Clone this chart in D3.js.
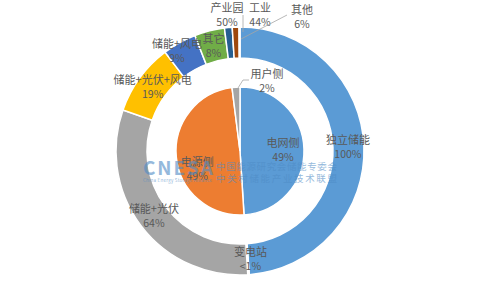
<!DOCTYPE html>
<html>
<head>
<meta charset="utf-8">
<script src="https://cdn.jsdelivr.net/npm/d3@7"></script>
<style>
  body { margin: 0; background: #fff; }
  text { font-family: "Noto Sans CJK SC", "Noto Sans", sans-serif; }
</style>
</head>
<body>
<div id="chart"></div>
<script>
// nested donut: inner = side, outer = application within each side
var innerNames = ["电网侧", "电源侧", "用户侧"];
var innerValues = [49, 49, 2];

var outerNames = ["独立储能", "变电站", "储能+光伏", "储能+光伏+风电", "储能+风电", "其它", "产业园", "工业", "其他"];
var outerParent = [0, 0, 1, 1, 1, 1, 2, 2, 2];
var outerPct = [99.6, 0.4, 64, 19, 9, 8, 50, 44, 6];

var innerColors = ["#5B9BD5", "#ED7D31", "#A5A5A5"];
var outerColors = ["#5B9BD5", "#ED7D31", "#A5A5A5", "#FFC000", "#4472C4", "#70AD47", "#255E91", "#9E480E", "#636363"];

var svgWidth = 480;
var svgHeight = 281;
var cx = 240, cy = 151;

var svg = d3.select("#chart")
  .append("svg")
  .attr("width", svgWidth)
  .attr("height", svgHeight);

var g = svg.append("g").attr("transform", "translate(" + cx + "," + cy + ")");

var pie = d3.pie().sort(null).value(function(d) { return d.value; });

var innerData = innerNames.map(function(n, i) {
  return { name: n, value: innerValues[i], pct: innerValues[i], color: innerColors[i] };
});
var outerData = outerNames.map(function(n, i) {
  return {
    name: n,
    value: innerValues[outerParent[i]] * outerPct[i] / 100,
    pct: outerPct[i],
    color: outerColors[i]
  };
});

var innerArcs = pie(innerData);
var outerArcs = pie(outerData);

var innerArc = d3.arc().innerRadius(0).outerRadius(64);
var outerArc = d3.arc().innerRadius(93).outerRadius(124);

g.selectAll("path.inner")
  .data(innerArcs)
  .enter().append("path")
  .attr("class", "inner")
  .attr("d", innerArc)
  .attr("fill", function(d) { return d.data.color; })
  .attr("stroke", "#fff")
  .attr("stroke-width", 1.5);

g.selectAll("path.outer")
  .data(outerArcs)
  .enter().append("path")
  .attr("class", "outer")
  .attr("d", outerArc)
  .attr("fill", function(d) { return d.data.color; })
  .attr("stroke", "#fff")
  .attr("stroke-width", 1.5);

// watermark
var wm = svg.append("g").attr("opacity", 0.6);
wm.append("text")
  .attr("x", 143).attr("y", 175)
  .attr("font-family", "Roboto, sans-serif")
  .attr("font-weight", "bold")
  .attr("font-size", 19)
  .attr("textLength", 70)
  .attr("fill", "#4F8CC6")
  .text("CNESA");
wm.append("text")
  .attr("x", 143).attr("y", 182)
  .attr("font-size", 4.5)
  .attr("textLength", 69)
  .attr("fill", "#4F8CC6")
  .text("China Energy Storage Alliance");
wm.append("text")
  .attr("x", 216).attr("y", 170)
  .attr("font-size", 9.5)
  .attr("textLength", 121)
  .attr("fill", "#4F8CC6")
  .text("中国能源研究会储能专委会");
wm.append("text")
  .attr("x", 216).attr("y", 182)
  .attr("font-size", 9.5)
  .attr("textLength", 121)
  .attr("fill", "#4F8CC6")
  .text("中关村储能产业技术联盟");

function pctText(p) {
  return p < 1 ? "<1%" : Math.round(p) + "%";
}

// label placement, Excel-like tweaks
var innerLabelArc = d3.arc().innerRadius(43).outerRadius(43);
var outerLabelArc = d3.arc().innerRadius(108).outerRadius(108);

var labels = [];
innerArcs.forEach(function(d, i) {
  var c = innerLabelArc.centroid(d);
  if (i === 1) c[1] += 14;
  if (i === 2) c = [27, -70];
  labels.push({ x: c[0], y: c[1], name: d.data.name, pct: pctText(d.data.pct) });
});
outerArcs.forEach(function(d, i) {
  var c = outerLabelArc.centroid(d);
  if (i === 1) c[0] += 3;
  if (i === 4) c = [-63, -100];
  if (i === 6) c = [-13, -136];
  if (i === 7) c = [20, -136];
  if (i === 8) c = [62, -134];
  labels.push({ x: c[0], y: c[1], name: d.data.name, pct: pctText(d.data.pct) });
});

var lab = g.selectAll("text.lab")
  .data(labels)
  .enter().append("text")
  .attr("class", "lab")
  .attr("text-anchor", "middle")
  .attr("font-size", 11)
  .attr("fill", "#595959");
lab.append("tspan")
  .attr("x", function(d) { return d.x; })
  .attr("y", function(d) { return d.y - 3; })
  .text(function(d) { return d.name; });
lab.append("tspan")
  .attr("x", function(d) { return d.x; })
  .attr("y", function(d) { return d.y + 11; })
  .attr("font-size", 10.5)
  .text(function(d) { return d.pct; });

// leader lines
var leader = d3.line();
var leaders = [
  [[-2, -63], [3, -71], [9, -71]],
  [[3, -119], [3, -136]],
  [[1, -112], [47, -136]]
];
g.selectAll("path.leader")
  .data(leaders)
  .enter().append("path")
  .attr("class", "leader")
  .attr("d", leader)
  .attr("fill", "none")
  .attr("stroke", "#A6A6A6")
  .attr("stroke-width", 0.8);
</script>
</body>
</html>
